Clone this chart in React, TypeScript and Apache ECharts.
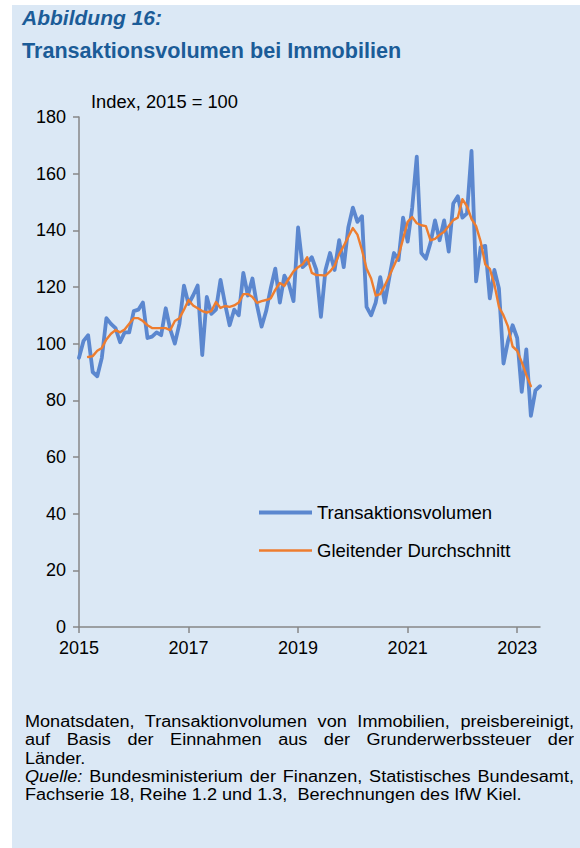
import React, { useEffect, useRef } from "react";
import * as echarts from "echarts";

// Monthly values, Jan 2015 – Jun 2023 (Index, 2015 = 100)
const transaktionsvolumen: number[] = [
  95, 101, 103, 90, 88.5, 95, 109, 107, 105.5, 100.5, 104, 104,
  111.5, 112, 114.5, 102, 102.5, 104, 103, 112.5, 105, 100, 107, 120.5,
  114, 117, 120.5, 96, 116.5, 110.5, 112, 122.5, 114, 106.5, 112, 110,
  125, 117, 123, 113.5, 106, 111.5, 119.5, 126.5, 114.5, 124, 121, 115,
  141, 127, 128.5, 130.5, 126, 109.5, 126, 132, 126, 136.5, 127, 141,
  148, 143, 145, 113, 110, 114.5, 123.5, 114.5, 123.5, 132, 129.5, 144.5,
  136, 148, 166, 132, 130, 135.5, 143.5, 136.5, 143.5, 132.5, 149.5, 152,
  144.5, 146, 168, 122, 134, 134.5, 116, 126, 119.5, 93, 101, 106.5,
  102, 83, 98, 74.5, 83.5, 85,
];

const gleitenderDurchschnitt: (number | null)[] = [
  null, null, 95.3, 95.6, 97.5, 98.5, 101.5, 103.5, 104.8, 104, 105, 107,
  109, 109, 108, 106.5, 105.5, 105.5, 105.5, 105.5, 104.8, 108, 109, 112,
  115.4, 113.5, 112.5, 111.5, 111, 111.5, 114.7, 112.6, 113.3, 113, 113.5, 114.5,
  117.5, 117.5, 116.5, 114.4, 115, 115.4, 116, 119, 121.4, 120.4, 123, 125.5,
  127, 128, 130.5, 125, 124.2, 124.2, 124, 125.5, 127.5, 131.5, 134.5, 137.7,
  140.8, 138.5, 133, 126.5, 123, 117, 117.5, 120.5, 124, 127.5, 131, 137,
  143, 144.7, 142.5, 141.8, 141.5, 136.5, 137, 138.4, 139.5, 141.5, 143.6, 144.5,
  151, 148.5, 144, 141.5, 136, 128, 126.4, 121, 113, 110, 106, 99,
  97.5, 93.5, 89, 85, null, null,
];

const months: string[] = transaktionsvolumen.map(
  (_, i) => `${2015 + Math.floor(i / 12)}-${String((i % 12) + 1).padStart(2, "0")}`
);

const yTicks = { min: 0, max: 180, interval: 20 };

const seriesNames = ["Transaktionsvolumen", "Gleitender Durchschnitt"];

const FONT = '"Liberation Sans", Arial, Helvetica, sans-serif';
const BLUE = "#5b87cf";
const ORANGE = "#ee7d2f";

export default function App() {
  const ref = useRef<HTMLDivElement>(null);

  useEffect(() => {
    if (!ref.current) return;
    const chart = echarts.init(ref.current, undefined, { renderer: "svg" });
    const showTick = (i: number) => i % 24 === 0;
    chart.setOption({
      animation: false,
      backgroundColor: "transparent",
      textStyle: { fontFamily: FONT },
      title: [
        {
          text: "Abbildung 16:",
          left: 22,
          top: 7,
          padding: 0,
          textStyle: {
            fontFamily: FONT,
            fontSize: 21,
            fontWeight: "bold",
            fontStyle: "italic",
            color: "#1b5c98",
          },
        },
        {
          text: "Transaktionsvolumen bei Immobilien",
          left: 22,
          top: 39,
          padding: 0,
          textStyle: {
            fontFamily: FONT,
            fontSize: 21.6,
            fontWeight: "bold",
            color: "#1b5c98",
          },
        },
      ],
      graphic: [
        {
          type: "text",
          left: 91,
          top: 92,
          style: {
            text: "Index, 2015 = 100",
            font: `18.3px ${FONT}`,
            fill: "#000",
          },
        },
      ],
      legend: {
        orient: "vertical",
        left: 259,
        top: 503,
        padding: 0,
        itemWidth: 53,
        itemHeight: 14,
        itemGap: 19,
        symbolKeepAspect: true,
        textStyle: { fontFamily: FONT, fontSize: 18.5, color: "#000" },
        data: [
          { name: seriesNames[0], icon: "path://M0,0H53V4H0Z" },
          { name: seriesNames[1], icon: "path://M0,0H53V2.4H0Z" },
        ],
      },
      grid: { left: 79, right: 40, top: 117, bottom: 221, containLabel: false },
      xAxis: {
        type: "category",
        data: months,
        boundaryGap: false,
        axisLine: { lineStyle: { color: "#878787", width: 1.5 } },
        axisTick: { interval: showTick, length: 6, lineStyle: { color: "#878787", width: 1.5 } },
        axisLabel: {
          interval: showTick,
          formatter: (v: string) => v.slice(0, 4),
          fontSize: 18,
          color: "#000",
          margin: 12,
          fontFamily: FONT,
        },
        splitLine: { show: false },
      },
      yAxis: {
        type: "value",
        min: yTicks.min,
        max: yTicks.max,
        interval: yTicks.interval,
        axisLine: { show: true, lineStyle: { color: "#878787", width: 1.5 } },
        axisTick: { show: true, length: 6, lineStyle: { color: "#878787", width: 1.5 } },
        axisLabel: { fontSize: 18, color: "#000", margin: 13, fontFamily: FONT },
        splitLine: { show: false },
      },
      series: [
        {
          name: seriesNames[0],
          type: "line",
          data: transaktionsvolumen,
          symbol: "none",
          lineStyle: { color: BLUE, width: 3.8, cap: "round", join: "round" },
          itemStyle: { color: BLUE },
          z: 2,
        },
        {
          name: seriesNames[1],
          type: "line",
          data: gleitenderDurchschnitt,
          symbol: "none",
          connectNulls: false,
          lineStyle: { color: ORANGE, width: 2.4, cap: "round", join: "round" },
          itemStyle: { color: ORANGE },
          z: 3,
        },
      ],
    });
    return () => chart.dispose();
  }, []);

  const SX = 1.13;
  const lineBase: React.CSSProperties = {
    height: 18.3,
    lineHeight: "18.3px",
    whiteSpace: "nowrap",
  };
  const just: React.CSSProperties = {
    ...lineBase,
    whiteSpace: "normal",
    textAlign: "justify",
    textAlignLast: "justify" as any,
    overflow: "hidden",
  };

  return (
    <div
      style={{
        position: "absolute",
        left: 0,
        top: 0,
        width: 580,
        height: 848,
        background: "#ffffff",
        overflow: "hidden",
        fontFamily: FONT,
      }}
    >
      <div
        style={{
          position: "absolute",
          left: 12,
          top: 5,
          width: 568,
          height: 843,
          background: "#dbe8f5",
        }}
      />
      <div ref={ref} style={{ position: "absolute", left: 0, top: 0, width: 580, height: 848 }} />
      <div
        style={{
          position: "absolute",
          left: 25,
          top: 713,
          width: 549 / SX,
          fontSize: 16,
          color: "#000",
          transform: `scaleX(${SX})`,
          transformOrigin: "left top",
        }}
      >
        <div style={just}>Monatsdaten, Transaktionvolumen von Immobilien, preisbereinigt,</div>
        <div style={just}>auf Basis der Einnahmen aus der Grunderwerbssteuer der</div>
        <div style={lineBase}>Länder.</div>
        <div style={just}>
          <i>Quelle:</i> Bundesministerium der Finanzen, Statistisches Bundesamt,
        </div>
        <div style={lineBase}>Fachserie 18, Reihe 1.2 und 1.3,{"\u00a0"} Berechnungen des IfW Kiel.</div>
      </div>
    </div>
  );
}
